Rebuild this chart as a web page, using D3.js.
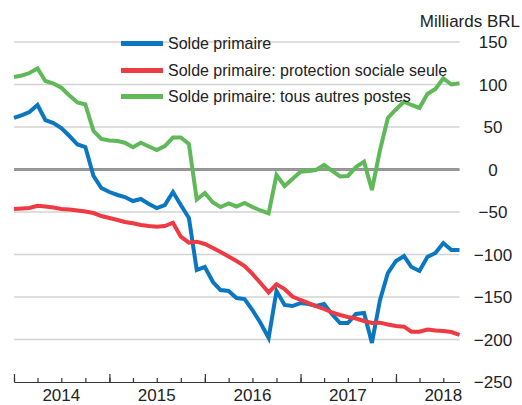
<!DOCTYPE html>
<html><head><meta charset="utf-8">
<script src="https://cdn.jsdelivr.net/npm/d3@7"></script>
<style>
html,body{margin:0;padding:0;background:#fff;}
svg{display:block;font-family:"Liberation Sans",Arial,sans-serif;}
</style></head>
<body><svg id="c" width="522" height="405"></svg>
<script>
// Monthly data, Jan 2014 – Sep 2018 (Milliards BRL)
const startYear = 2014, startMonth = 0;
const soldePrimaire = [60.6,64.1,67.6,75.9,58.2,54.7,48.8,39.4,29.4,26.5,-7.6,-21.8,-26.5,-30,-32.4,-37.1,-34.7,-40.6,-45.3,-41.8,-26.5,-41.8,-57.1,-118.2,-114.7,-132.4,-141.8,-142.9,-151.2,-152.4,-165.3,-180.6,-198.2,-142.9,-159.4,-160.6,-157.1,-158.2,-160.6,-158.2,-170,-180.6,-180.6,-170,-168.8,-204.1,-153.5,-121.8,-107.6,-101.8,-114.7,-119.4,-102.9,-98.2,-86.5,-94.7,-94.7];
const protectionSociale = [-46.5,-45.9,-45.3,-42.6,-43.5,-44.7,-46.5,-47.1,-48.2,-49.4,-51.2,-54.7,-57.1,-59.4,-61.8,-63.3,-65.3,-66.5,-67.3,-66.5,-62.6,-79.1,-86.1,-84.9,-87.6,-92.4,-97.1,-102.4,-107.6,-113.5,-122.9,-133.5,-144.7,-135.1,-140.6,-149.4,-153.5,-157.1,-160.6,-164.1,-168.2,-171.2,-173.5,-175.3,-178.2,-180.6,-180.2,-182.4,-184.1,-184.9,-190.8,-190.8,-188.2,-189.4,-190,-191.2,-194.7];
const autresPostes = [108.8,110.6,113.5,118.8,104.1,101.2,96.2,87.1,78.8,76.5,45.3,35.9,34.1,33.5,31.5,26.1,31.5,27.1,22.9,27.6,37.6,37.6,30,-35.3,-27.6,-38.8,-44.1,-40,-43.5,-39.4,-44.1,-48.2,-51.5,-6.5,-19.4,-11.2,-2.6,-1.8,-0.6,5.3,-1.2,-8.2,-7.6,2.9,9.2,-24.1,22.9,60.6,70.6,79.8,75.9,72.4,88.8,94.7,107.3,100,101.4];
const seriesNames = ["Solde primaire","Solde primaire: protection sociale seule","Solde primaire: tous autres postes"];
const seriesColors = ["#0b77c1","#ee3a43","#60b958"];
const yTicks = [150,100,50,0,-50,-100,-150,-200,-250];
const yearLabels = [2014,2015,2016,2017,2018];
const unitLabel = "Milliards BRL";

const svg = d3.select("#c");
const x = d3.scaleTime().domain([new Date(2014,0,1), new Date(2018,8,1)]).range([14, 459.5]);
const y = d3.scaleLinear().domain([-250,150]).range([382, 42]);
const dates = soldePrimaire.map((_,i)=>new Date(startYear, startMonth+i, 1));

// gridlines
svg.append("g").selectAll("line").data(yTicks.filter(d=>d!==0 && d!==-250)).join("line")
  .attr("x1", 14).attr("x2", 459.5).attr("y1", d=>y(d)).attr("y2", d=>y(d))
  .attr("stroke","#d3d3d3").attr("stroke-width",1.3);

// right labels
svg.append("g").selectAll("text").data(yTicks).join("text")
  .attr("x", 493).attr("y", d=>y(d)+6).attr("text-anchor","middle")
  .attr("font-size",17).attr("fill","#222")
  .text(d=> d<0 ? "\u2212"+Math.abs(d) : d);
svg.append("text").attr("x",520).attr("y",27).attr("text-anchor","end")
  .attr("font-size",17).attr("fill","#222").text(unitLabel);

// x axis
const xAxisMinor = d3.axisBottom(x).ticks(d3.timeMonth.every(3)).tickSizeInner(-4).tickSizeOuter(0).tickFormat("");
const gMinor = svg.append("g").attr("transform",`translate(0,${y(-250)})`).call(xAxisMinor);
const xAxisMajor = d3.axisBottom(x).ticks(d3.timeYear.every(1)).tickSizeInner(-8).tickSizeOuter(0).tickFormat("");
const gMajor = svg.append("g").attr("transform",`translate(0,${y(-250)})`).call(xAxisMajor);
[gMinor,gMajor].forEach(g=>{g.selectAll("path,line").attr("stroke","#333").attr("stroke-width",1.2);});
svg.append("g").selectAll("text").data(yearLabels).join("text")
  .attr("x", d=>x(new Date(d,6,1))).attr("y",401).attr("text-anchor","middle")
  .attr("font-size",17).attr("fill","#222").text(d=>d);

// zero line
svg.append("line").attr("x1",14).attr("x2",459.5).attr("y1",y(0)).attr("y2",y(0))
  .attr("stroke","#6e6e6e").attr("stroke-width",2.6);
svg.append("line").attr("x1",14).attr("x2",459.5).attr("y1",y(0)).attr("y2",y(0))
  .attr("stroke","#b0b0b0").attr("stroke-width",0.7);

// lines
const line = d3.line().x((d,i)=>x(dates[i])).y(d=>y(d));
[soldePrimaire, protectionSociale, autresPostes].forEach((s,k)=>{
  svg.append("path").datum(s).attr("d",line).attr("fill","none")
    .attr("stroke",seriesColors[k]).attr("stroke-width",4).attr("stroke-linejoin","miter");
});

// legend
const leg = svg.append("g");
const legY = [43.5, 70.5, 96.5];
seriesNames.forEach((n,k)=>{
  leg.append("line").attr("x1",121).attr("x2",163).attr("y1",legY[k]).attr("y2",legY[k])
    .attr("stroke",seriesColors[k]).attr("stroke-width",5);
  leg.append("text").attr("x",168).attr("y",legY[k]+5.8).attr("font-size",16).attr("fill","#222").text(n);
});
</script></body></html>
